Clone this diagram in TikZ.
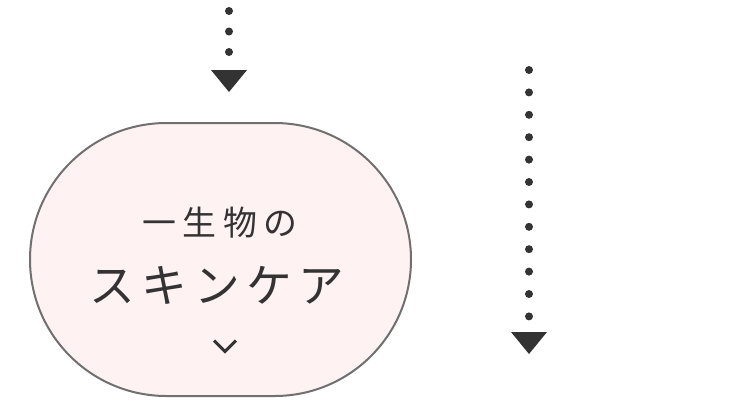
\documentclass[tikz,border=0pt]{standalone}
\usepackage{fontspec}
\newfontfamily\jpfont{Noto Sans CJK JP}
\usetikzlibrary{arrows.meta}
\definecolor{ink}{HTML}{333333}
\definecolor{rim}{HTML}{707070}
\definecolor{blush}{HTML}{FFF2F2}

\begin{document}
\begin{tikzpicture}[x=0.02cm,y=-0.02cm,
  dotline/.style={ink,line width=8*0.02cm,line cap=round,
    -{Triangle[width=36*0.02cm,length=22*0.02cm,line width=0pt]}},
  capsule/.style={draw=rim,fill=blush,line width=2*0.02cm,minimum width=381*0.02cm,
    minimum height=273*0.02cm,rounded corners=136.5*0.02cm,inner sep=0pt},
  caption/.style={text=ink,inner sep=0pt,font=\jpfont}]
\useasboundingbox (0,0) rectangle (750,400);
\coordinate (s1) at (229,11);
\coordinate (e1) at (229,92);
\coordinate (s2) at (529,70);
\coordinate (e2) at (529,354);
\draw[dotline,dash pattern=on 0pt off 20.5*0.02cm] (s1) -- (e1);
\draw[dotline,dash pattern=on 0pt off 22.4*0.02cm] (s2) -- (e2);
\node[capsule] (care) at (220.5,259.5) {};
\node[caption,font=\jpfont\fontsize{19.3pt}{20pt}\selectfont] (line1) at (220,223)
  {一\kern3.6pt 生\kern3.6pt 物\kern3.6pt の};
\node[caption,font=\jpfont\fontsize{26pt}{26pt}\selectfont] (line2) at (217,285)
  {ス\kern3.8pt キ\kern3.8pt ン\kern3.8pt ケ\kern3.8pt ア};
\coordinate (chev) at (225,346);
\draw[ink,line width=3*0.02cm] ([shift={(-11,-5.5)}]chev) -- ([shift={(0,5.5)}]chev) -- ([shift={(11,-5.5)}]chev);
\end{tikzpicture}
\end{document}
